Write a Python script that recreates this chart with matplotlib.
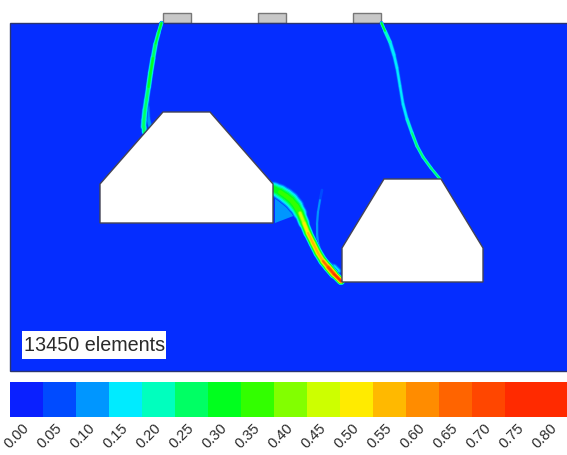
import matplotlib
matplotlib.use("Agg")
import matplotlib.pyplot as plt
from matplotlib.collections import LineCollection
from matplotlib.patches import Polygon, Rectangle

plt.rcParams['font.family'] = ['Liberation Sans', 'DejaVu Sans']

# colour scale
level_labels = ["0.00", "0.05", "0.10", "0.15", "0.20", "0.25", "0.30", "0.35", "0.40",
                "0.45", "0.50", "0.55", "0.60", "0.65", "0.70", "0.75", "0.80"]
level_values = [float(s) for s in level_labels]
level_colors = ["#0a20ff", "#004bff", "#0096ff", "#00ebff", "#00ffbe", "#00ff64", "#00ff1e",
                "#32ff00", "#82ff00", "#cdff00", "#ffeb00", "#ffb900", "#ff8c00", "#ff6400",
                "#ff4600", "#ff2a00", "#ff2a00"]

# geometry in picture pixels
domain_x = [10, 568]
domain_y = [23, 371]
left_body = [(100, 184), (163, 112), (210, 112), (273, 184), (273, 223), (100, 223)]
right_body = [(342, 248), (384, 179), (441, 179), (483, 248), (483, 282), (342, 282)]
inlet_x = [163, 258, 353]

# streaks: centre line, width, peak value
left_x = [161.5, 158.5, 155.5, 153, 150.5, 148.5, 146.5, 145, 144, 143.5, 143.5]
left_y = [23, 33, 44, 58, 73, 87, 100, 110, 120, 127, 132]
left_w = [3, 3.5, 4, 4.5, 4.5, 4.5, 4.5, 5, 5, 5, 4]
left_p = [0.38, 0.32, 0.28, 0.30, 0.36, 0.30, 0.27, 0.26, 0.28, 0.28, 0.30]

left2_x = [148, 147.5, 148, 150]
left2_y = [95, 107, 118, 126]
left2_w = [3, 4, 4.5, 4]
left2_p = [0.12, 0.14, 0.14, 0.12]

right_x = [381.5, 385, 390, 394, 397, 400, 403, 407, 412, 417, 423, 431, 440]
right_y = [23, 31, 42, 55, 68, 86, 104, 119, 133, 146, 157, 168, 179]
right_w = [2.5, 3, 4, 4, 3.5, 3.5, 3.5, 3.5, 3.5, 3, 3, 3, 2.5]
right_p = [0.36, 0.30, 0.20, 0.17, 0.17, 0.16, 0.17, 0.19, 0.24, 0.28, 0.27, 0.27, 0.30]

mid_x = [274, 280, 286, 291, 296, 300, 304, 308, 313, 318, 323, 328, 334, 341]
mid_y = [189, 192, 196, 200, 206, 213, 223, 233, 243, 253, 261, 267, 274, 281]
mid_w = [11, 12, 13, 13, 12, 10, 8, 7, 7, 7, 7, 7, 7, 5]
mid_p = [0.34, 0.36, 0.36, 0.36, 0.38, 0.42, 0.50, 0.56, 0.60, 0.58, 0.60, 0.72, 0.76, 0.78]

wisp_x = [322, 320, 318, 317, 317, 318, 320, 323]
wisp_y = [190, 200, 212, 224, 234, 243, 250, 255]
wisp_w = [2.5, 2.5, 2.5, 2.5, 2.5, 2.5, 2.5, 2.5]
wisp_p = [0.09, 0.11, 0.13, 0.14, 0.14, 0.15, 0.16, 0.18]

wake_x = [330, 334, 338]
wake_y = [264, 267, 271]
wake_w = [3, 5, 7]
wake_p = [0.12, 0.16, 0.18]

fan = [(275, 190), (275, 223), (296, 215), (287, 198)]
fan_value = 0.10

streaks = [(left2_x, left2_y, left2_w, left2_p), (left_x, left_y, left_w, left_p),
           (right_x, right_y, right_w, right_p), (wisp_x, wisp_y, wisp_w, wisp_p),
           (wake_x, wake_y, wake_w, wake_p), (mid_x, mid_y, mid_w, mid_p)]

fig = plt.figure(figsize=(5.67, 4.55), dpi=100)
ax = fig.add_axes([0, 0, 1, 1])
ax.set_xlim(0, 567)
ax.set_ylim(455, 0)
ax.axis("off")

ax.add_patch(Rectangle((domain_x[0], domain_y[0]), domain_x[1] - domain_x[0], domain_y[1] - domain_y[0],
                       fc="#052dff", ec="#2a3570", lw=1.0, zorder=1))
ax.add_patch(Polygon(fan, closed=True, fc=level_colors[2], ec="none", zorder=2))


def band_color(value):
    idx = 0
    for i, lv in enumerate(level_values):
        if value >= lv:
            idx = i
    return level_colors[idx]


for xs, ys, ws, ps in streaks:
    for lv in level_values[1:]:
        segs, lws = [], []
        for i in range(len(xs) - 1):
            p = (ps[i] + ps[i + 1]) / 2
            if p <= lv:
                continue
            w = (ws[i] + ws[i + 1]) / 2
            frac = (1 - lv / (p + 0.05)) ** 0.8
            segs.append([(xs[i], ys[i]), (xs[i + 1], ys[i + 1])])
            lws.append(max(w * frac * 1.5 * 0.72, 0.4))
        if segs:
            ax.add_collection(LineCollection(segs, colors=band_color(lv), linewidths=lws,
                                             capstyle="round", zorder=3))

for body in (left_body, right_body):
    ax.add_patch(Polygon(body, closed=True, fc="white", ec="#444455", lw=1.0, zorder=4))

for x0 in inlet_x:
    ax.add_patch(Rectangle((x0, 13), 28, 10, fc="#c8c8c8", ec="#777777", lw=1.0, zorder=0.5))

ax.add_patch(Rectangle((22, 331), 144, 28, fc="white", ec="none", zorder=5))
ax.text(24, 345.5, "13450 elements", fontsize=14.2, color="#2a2a2a", va="center", ha="left", zorder=6)

# colour bar
for i, (lab, col) in enumerate(zip(level_labels, level_colors)):
    ax.add_patch(Rectangle((10 + 33 * i, 382), 33.3, 35, fc=col, ec="none", zorder=2))
    ax.text(32 + 33 * i, 421, lab, rotation=45, rotation_mode="default", ha="right", va="top",
            fontsize=10.5, color="#2a2a2a")

fig.savefig("out.png", dpi=100)
